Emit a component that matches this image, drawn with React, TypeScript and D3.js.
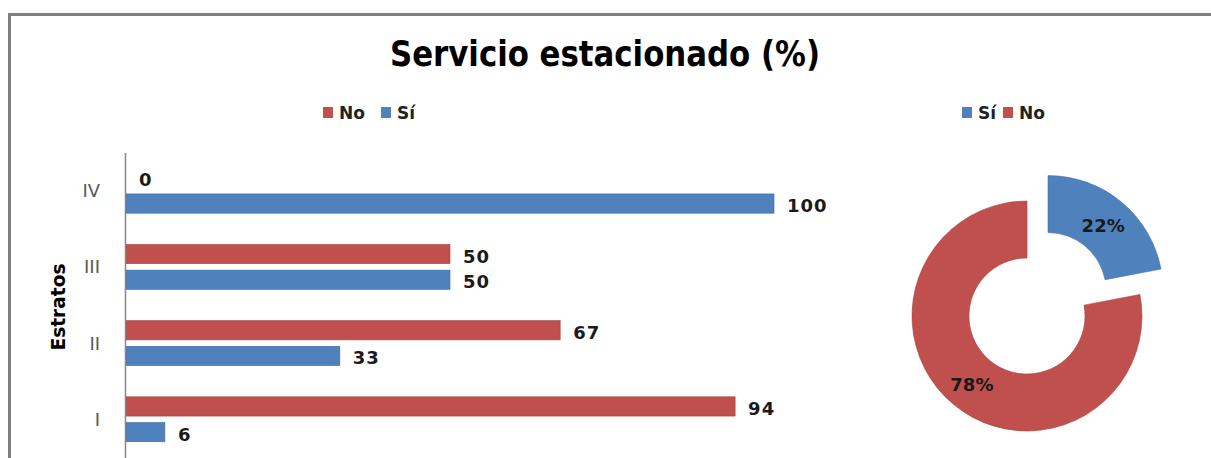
import React from "react";
import * as d3 from "d3";

const categories = ["IV", "III", "II", "I"];
const seriesNames = ["No", "Sí"];
const noValues = [0, 50, 67, 94];
const siValues = [100, 50, 33, 6];
const pieLabels = ["Sí", "No"];
const pieValues = [22, 78];

const RED = "#C0504D";
const BLUE = "#4F81BD";
const W = 1211;
const H = 458;

export default function App() {
  const x = d3.scaleLinear().domain([0, 100]).range([126, 774]);
  const y0 = d3
    .scaleBand<string>()
    .domain(categories)
    .range([153, 457])
    .paddingInner(0.41)
    .paddingOuter(0.2);
  const y1 = d3
    .scaleBand<string>()
    .domain(seriesNames)
    .range([0, y0.bandwidth()])
    .paddingInner(0.25);

  const rows = categories.flatMap((c, i) => [
    { cat: c, s: "No", v: noValues[i], color: RED },
    { cat: c, s: "Sí", v: siValues[i], color: BLUE },
  ]);

  const pie = d3
    .pie<number>()
    .sort(null)
    .value((d) => d)(pieValues);
  const outerR = 115;
  const innerR = 58;
  const arc = d3.arc<d3.PieArcDatum<number>>().innerRadius(innerR).outerRadius(outerR);
  const labelArc = d3
    .arc<d3.PieArcDatum<number>>()
    .innerRadius((innerR + outerR) / 2)
    .outerRadius((innerR + outerR) / 2);
  const cx = 1027;
  const cy = 316;
  const explode = [33, 0];
  const pieColors = [BLUE, RED];

  const font = "'DejaVu Sans', Verdana, sans-serif";

  return (
    <svg
      width={W}
      height={H}
      style={{ position: "absolute", left: 0, top: 0, background: "#fff" }}
    >
      {/* frame */}
      <path d={`M9.5,${H} V14.5 H${W}`} fill="none" stroke="#7f7f7f" strokeWidth={3} />

      {/* title */}
      <text
        x={605}
        y={66}
        textAnchor="middle"
        fontFamily="'Liberation Sans Narrow', 'DejaVu Sans Condensed', sans-serif"
        fontWeight="bold"
        fontSize={35}
        textLength={430}
        lengthAdjust="spacingAndGlyphs"
        fill="#000"
      >
        Servicio estacionado (%)
      </text>

      {/* bar legend */}
      {seriesNames.map((s, i) => {
        const lx = [323, 381][i];
        return (
          <g key={s}>
            <rect x={lx} y={107} width={10} height={11} fill={s === "No" ? RED : BLUE} />
            <text x={lx + 16} y={113} dominantBaseline="central" fontFamily={font} fontWeight="bold" fontSize={17} fill="#222">
              {s}
            </text>
          </g>
        );
      })}

      {/* pie legend */}
      {pieLabels.map((s, i) => {
        const lx = [962, 1003][i];
        return (
          <g key={s}>
            <rect x={lx} y={107} width={10} height={11} fill={pieColors[i]} />
            <text x={lx + 16} y={113} dominantBaseline="central" fontFamily={font} fontWeight="bold" fontSize={17} fill="#222">
              {s}
            </text>
          </g>
        );
      })}

      {/* bars */}
      {rows.map((r) => {
        const yy = (y0(r.cat) as number) + (y1(r.s) as number);
        return (
          <g key={r.cat + r.s}>
            {r.v > 0 && (
              <rect
                x={x(0)}
                y={yy}
                width={x(r.v) - x(0)}
                height={y1.bandwidth()}
                fill={r.color}
                stroke={d3.color(r.color)!.darker(0.5).toString()}
                strokeWidth={0.6}
              />
            )}
            <text
              x={x(r.v) + 13}
              y={yy + y1.bandwidth() / 2 + 2}
              dominantBaseline="central"
              fontFamily={font}
              fontWeight="bold"
              fontSize={18}
              letterSpacing={1}
              fill="#1a1a1a"
            >
              {r.v}
            </text>
          </g>
        );
      })}

      {/* y axis */}
      <line x1={125.5} x2={125.5} y1={153} y2={H} stroke="#868686" strokeWidth={1.5} />
      {categories.map((c) => (
        <text
          key={c}
          x={100}
          y={(y0(c) as number) + y0.bandwidth() / 2}
          textAnchor="end"
          dominantBaseline="central"
          fontFamily={font}
          fontSize={18}
          fill="#595959"
        >
          {c}
        </text>
      ))}
      <text
        transform="translate(58,307) rotate(-90)"
        textAnchor="middle"
        dominantBaseline="central"
        fontFamily={font}
        fontWeight="bold"
        fontSize={19}
        textLength={87}
        lengthAdjust="spacingAndGlyphs"
        fill="#000"
      >
        Estratos
      </text>

      {/* donut */}
      {pie.map((p, i) => {
        const mid = (p.startAngle + p.endAngle) / 2;
        const dx = Math.sin(mid) * explode[i];
        const dy = -Math.cos(mid) * explode[i];
        const [lx, ly] = labelArc.centroid(p);
        return (
          <g key={i} transform={`translate(${cx + dx},${cy + dy})`}>
            <path d={arc(p) || ""} fill={pieColors[i]} stroke={d3.color(pieColors[i])!.darker(0.4).toString()} strokeWidth={0.6} />
            <text x={lx} y={ly + 2} textAnchor="middle" dominantBaseline="central" fontFamily={font} fontWeight="bold" fontSize={18} fill="#1a1a1a">
              {pieValues[i]}%
            </text>
          </g>
        );
      })}
    </svg>
  );
}
